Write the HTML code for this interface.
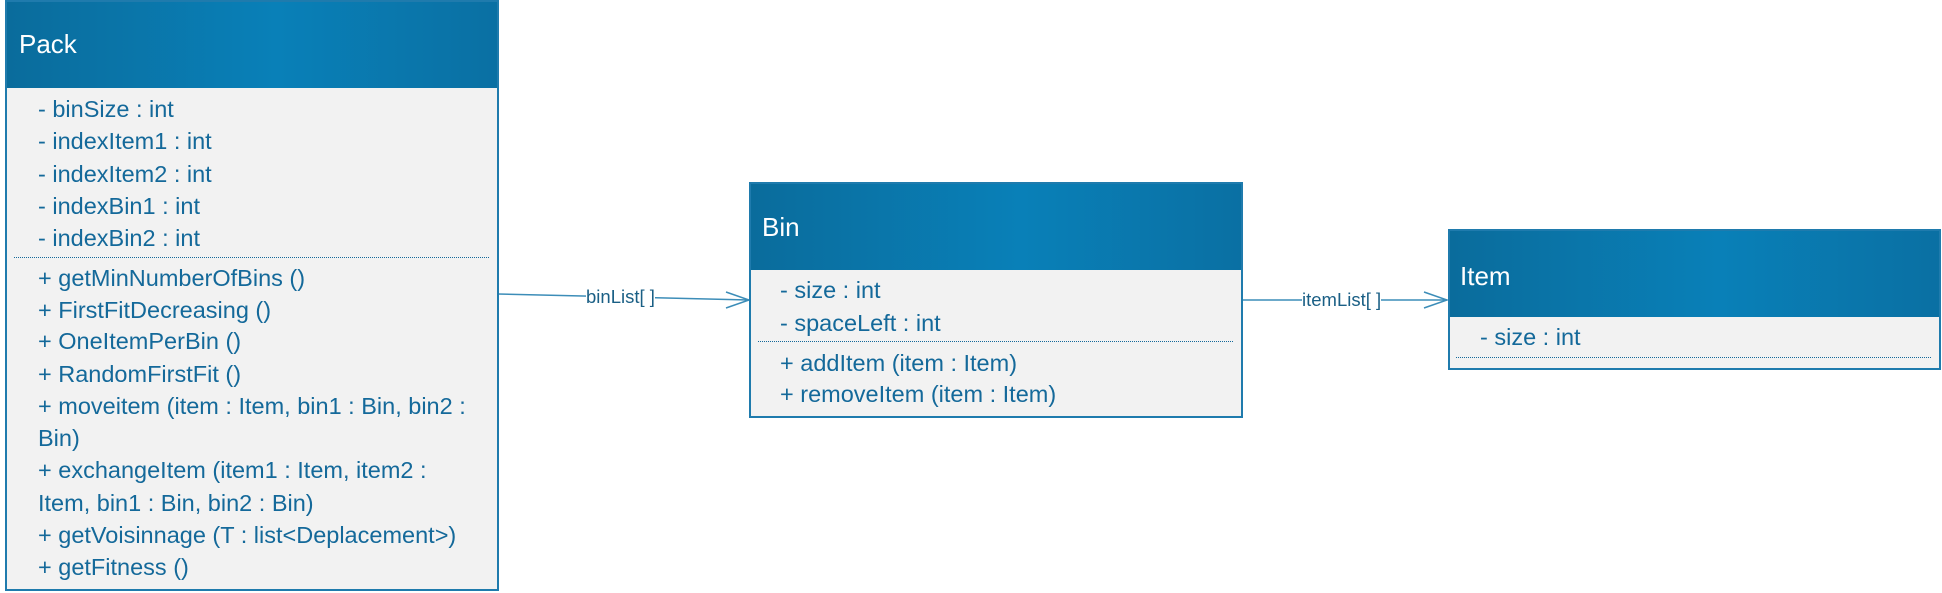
<!DOCTYPE html>
<html><head><meta charset="utf-8"><style>
body{margin:0;width:1942px;height:593px;background:#fff;position:relative;overflow:hidden;font-family:"Liberation Sans",sans-serif;}
.box{position:absolute;background:#f2f2f2;border:2px solid #1f7bad;box-sizing:border-box;}
.hdr{position:absolute;left:0;right:0;top:0;background:linear-gradient(90deg,#0a6c9c 0%,#0980b8 55%,#0a70a3 100%);color:#fff;}
.t{position:absolute;color:#14699a;font-size:23.5px;white-space:nowrap;line-height:24px;}
.dot{position:absolute;border-top:1.5px dotted #14699a;}
.lbl{position:absolute;font-size:18.5px;color:#1a5f85;background:#fff;line-height:18px;white-space:nowrap;}
</style></head><body>
<svg width="1942" height="593" style="position:absolute;left:0;top:0">
<g stroke="#3c8db8" stroke-width="1.5" fill="none">
<line x1="498" y1="294" x2="749" y2="300"/>
<polyline points="726,292 749,300 726,308"/>
<line x1="1242" y1="300" x2="1447" y2="300"/>
<polyline points="1424,292 1447,300 1424,308"/>
</g></svg>
<div class="lbl" style="left:586px;top:288px">binList[ ]</div>
<div class="lbl" style="left:1302px;top:291px">itemList[ ]</div>

<div class="box" style="left:5px;top:0;width:494px;height:591px">
<div class="hdr" style="height:86px"><span style="position:absolute;left:12px;top:27px;font-size:26px">Pack</span></div>
</div>
<div class="t" style="left:38px;top:97px">- binSize : int</div>
<div class="t" style="left:38px;top:129px">- indexItem1 : int</div>
<div class="t" style="left:38px;top:162px">- indexItem2 : int</div>
<div class="t" style="left:38px;top:194px">- indexBin1 : int</div>
<div class="t" style="left:38px;top:226px">- indexBin2 : int</div>
<div class="dot" style="left:14px;width:475px;top:257px"></div>
<div class="t" style="left:38px;top:266px">+ getMinNumberOfBins ()</div>
<div class="t" style="left:38px;top:298px">+ FirstFitDecreasing ()</div>
<div class="t" style="left:38px;top:329px">+ OneItemPerBin ()</div>
<div class="t" style="left:38px;top:362px">+ RandomFirstFit ()</div>
<div class="t" style="left:38px;top:394px">+ moveitem (item : Item, bin1 : Bin, bin2 :</div>
<div class="t" style="left:38px;top:426px">Bin)</div>
<div class="t" style="left:38px;top:458px">+ exchangeItem (item1 : Item, item2 :</div>
<div class="t" style="left:38px;top:491px">Item, bin1 : Bin, bin2 : Bin)</div>
<div class="t" style="left:38px;top:523px">+ getVoisinnage (T : list&lt;Deplacement&gt;)</div>
<div class="t" style="left:38px;top:555px">+ getFitness ()</div>

<div class="box" style="left:749px;top:182px;width:494px;height:236px">
<div class="hdr" style="height:86px"><span style="position:absolute;left:11px;top:28px;font-size:26px">Bin</span></div>
</div>
<div class="t" style="left:780px;top:278px">- size : int</div>
<div class="t" style="left:780px;top:311px">- spaceLeft : int</div>
<div class="dot" style="left:758px;width:475px;top:341px"></div>
<div class="t" style="left:780px;top:351px">+ addItem (item : Item)</div>
<div class="t" style="left:780px;top:382px">+ removeItem (item : Item)</div>

<div class="box" style="left:1448px;top:229px;width:493px;height:141px">
<div class="hdr" style="height:86px"><span style="position:absolute;left:10px;top:30px;font-size:26px">Item</span></div>
</div>
<div class="t" style="left:1480px;top:325px">- size : int</div>
<div class="dot" style="left:1456px;width:475px;top:357px"></div>
</body></html>
